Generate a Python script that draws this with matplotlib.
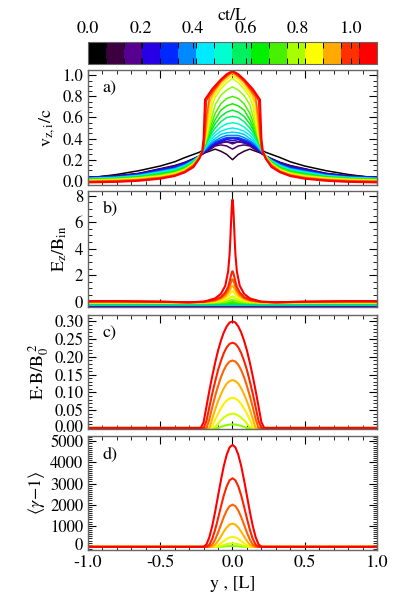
import numpy as np
import matplotlib
matplotlib.use('Agg')
import matplotlib.pyplot as plt
from matplotlib.colors import ListedColormap, LinearSegmentedColormap, BoundaryNorm
from matplotlib.cm import ScalarMappable
from matplotlib.ticker import MultipleLocator, FormatStrFormatter
import matplotlib.transforms as mtransforms

plt.rcParams['font.family'] = ['STIXGeneral', 'DejaVu Serif']
plt.rcParams['mathtext.fontset'] = 'stix'
plt.rcParams['font.size'] = 13
plt.rcParams['ytick.labelsize'] = 12

# colour table shown in the bar (16 steps of ct/L, 0 .. 1.1)
cb_colors = ['#000000', '#3c0040', '#580090', '#2800e6', '#0028ff', '#0088ff',
             '#00eaff', '#00ffd0', '#00f060', '#00f000', '#48f000', '#a8ff00',
             '#ffff00', '#ffaa00', '#ff3000', '#ff0000']
cb_bounds = [0.0, 0.06875, 0.1375, 0.20625, 0.275, 0.34375, 0.4125, 0.48125, 0.55,
             0.61875, 0.6875, 0.75625, 0.825, 0.89375, 0.9625, 1.03125, 1.1]

# snapshot times (ct/L) of the profiles
t_vals = [0.0, 0.05, 0.1, 0.15, 0.2, 0.25, 0.3, 0.35, 0.4, 0.45, 0.5,
          0.55, 0.6, 0.65, 0.7, 0.75, 0.8, 0.85, 0.9, 0.95, 1.0, 1.05]

# a) v_z,i / c  -- half profiles (y >= 0), mirrored to y < 0
ya = [0.0, 0.04, 0.08, 0.12, 0.14, 0.16, 0.18, 0.19, 0.20, 0.21, 0.23, 0.27, 0.33, 0.40, 0.50, 0.65, 0.80, 1.0]
vz = [
    [0.36, 0.37, 0.36, 0.34, 0.33, 0.32, 0.31, 0.30, 0.29, 0.285, 0.27, 0.25, 0.22, 0.18, 0.14, 0.095, 0.06, 0.025],
    [0.20, 0.25, 0.28, 0.30, 0.29, 0.28, 0.27, 0.265, 0.26, 0.25, 0.235, 0.21, 0.175, 0.145, 0.115, 0.07, 0.048, 0.033],
    [0.30, 0.33, 0.34, 0.33, 0.31, 0.295, 0.28, 0.27, 0.26, 0.25, 0.235, 0.205, 0.17, 0.14, 0.11, 0.068, 0.046, 0.033],
    [0.35, 0.37, 0.36, 0.34, 0.32, 0.30, 0.285, 0.275, 0.26, 0.25, 0.235, 0.205, 0.17, 0.135, 0.11, 0.066, 0.044, 0.032],
    [0.38, 0.39, 0.37, 0.35, 0.33, 0.31, 0.29, 0.28, 0.265, 0.255, 0.235, 0.20, 0.165, 0.13, 0.105, 0.063, 0.042, 0.030],
    [0.40, 0.40, 0.38, 0.36, 0.34, 0.32, 0.295, 0.285, 0.27, 0.26, 0.235, 0.20, 0.16, 0.125, 0.10, 0.06, 0.04, 0.028],
    [0.41, 0.41, 0.39, 0.37, 0.35, 0.33, 0.30, 0.29, 0.275, 0.26, 0.235, 0.195, 0.155, 0.12, 0.095, 0.056, 0.037, 0.026],
    [0.43, 0.43, 0.41, 0.38, 0.36, 0.34, 0.31, 0.295, 0.28, 0.265, 0.235, 0.195, 0.15, 0.115, 0.09, 0.053, 0.035, 0.024],
    [0.46, 0.455, 0.44, 0.40, 0.38, 0.35, 0.32, 0.30, 0.285, 0.265, 0.235, 0.19, 0.145, 0.11, 0.085, 0.05, 0.032, 0.022],
    [0.50, 0.49, 0.47, 0.43, 0.40, 0.37, 0.33, 0.31, 0.29, 0.27, 0.235, 0.19, 0.14, 0.105, 0.08, 0.047, 0.03, 0.02],
    [0.55, 0.54, 0.51, 0.46, 0.43, 0.39, 0.35, 0.32, 0.30, 0.275, 0.235, 0.185, 0.135, 0.10, 0.075, 0.043, 0.027, 0.018],
    [0.61, 0.60, 0.56, 0.50, 0.46, 0.41, 0.36, 0.33, 0.30, 0.28, 0.235, 0.18, 0.13, 0.095, 0.07, 0.04, 0.025, 0.016],
    [0.67, 0.65, 0.61, 0.54, 0.49, 0.43, 0.37, 0.34, 0.31, 0.28, 0.235, 0.175, 0.125, 0.09, 0.065, 0.036, 0.022, 0.014],
    [0.73, 0.71, 0.67, 0.58, 0.52, 0.45, 0.38, 0.35, 0.31, 0.28, 0.23, 0.17, 0.12, 0.085, 0.06, 0.033, 0.02, 0.012],
    [0.80, 0.78, 0.73, 0.64, 0.56, 0.47, 0.39, 0.35, 0.32, 0.28, 0.23, 0.17, 0.115, 0.08, 0.055, 0.03, 0.018, 0.01],
    [0.89, 0.86, 0.81, 0.72, 0.62, 0.50, 0.40, 0.36, 0.32, 0.28, 0.23, 0.165, 0.11, 0.075, 0.05, 0.028, 0.015, 0.007],
    [0.97, 0.93, 0.87, 0.79, 0.72, 0.55, 0.42, 0.37, 0.32, 0.28, 0.23, 0.16, 0.105, 0.07, 0.045, 0.025, 0.012, 0.005],
    [1.00, 0.96, 0.90, 0.82, 0.78, 0.62, 0.45, 0.38, 0.33, 0.28, 0.22, 0.16, 0.10, 0.065, 0.04, 0.02, 0.01, 0.0],
    [1.02, 0.98, 0.93, 0.85, 0.81, 0.74, 0.50, 0.40, 0.33, 0.28, 0.22, 0.15, 0.095, 0.06, 0.035, 0.015, 0.005, 0.0],
    [1.03, 0.99, 0.94, 0.87, 0.83, 0.79, 0.60, 0.42, 0.32, 0.27, 0.22, 0.15, 0.09, 0.055, 0.03, 0.01, 0.0, -0.005],
    [1.035, 1.00, 0.95, 0.88, 0.85, 0.81, 0.76, 0.50, 0.32, 0.26, 0.21, 0.14, 0.085, 0.05, 0.025, 0.005, -0.005, -0.01],
    [1.04, 1.01, 0.96, 0.90, 0.87, 0.83, 0.79, 0.77, 0.40, 0.28, 0.21, 0.13, 0.08, 0.045, 0.02, 0.0, -0.01, -0.015],
]

# b) E_z / B_in -- early snapshots are flat, the last eight have the central spike
ez_flat = [-0.36, -0.35, -0.33, -0.32, -0.30, -0.28, -0.26, -0.24, -0.22, -0.20, -0.18, -0.16, -0.14, -0.12]
yb = [0.0, 0.005, 0.01, 0.015, 0.02, 0.03, 0.05, 0.08, 0.12, 0.2, 0.3, 0.5, 0.8, 1.0]
ez = [
    [0.0, -0.01, -0.02, -0.03, -0.04, -0.06, -0.08, -0.09, -0.10, -0.11, -0.11, -0.10, -0.10, -0.10],
    [0.15, 0.14, 0.13, 0.11, 0.09, 0.05, 0.0, -0.04, -0.07, -0.09, -0.10, -0.09, -0.08, -0.08],
    [0.40, 0.39, 0.36, 0.32, 0.28, 0.21, 0.12, 0.04, -0.02, -0.07, -0.08, -0.07, -0.06, -0.06],
    [0.80, 0.77, 0.70, 0.63, 0.56, 0.43, 0.26, 0.12, 0.02, -0.05, -0.06, -0.05, -0.04, -0.04],
    [1.20, 1.16, 1.06, 0.95, 0.85, 0.66, 0.40, 0.20, 0.06, -0.04, -0.05, -0.03, -0.02, -0.02],
    [1.70, 1.62, 1.48, 1.32, 1.16, 0.88, 0.55, 0.28, 0.10, -0.02, -0.04, -0.01, 0.0, 0.0],
    [2.30, 2.20, 2.00, 1.75, 1.52, 1.12, 0.70, 0.35, 0.15, 0.0, -0.04, 0.0, 0.03, 0.02],
    [7.70, 7.20, 6.00, 4.70, 3.60, 2.30, 1.20, 0.60, 0.25, 0.0, -0.05, 0.0, 0.05, 0.05],
]

# c) E.B / B0^2 and d) <gamma-1>, last seven snapshots (earlier ones are ~0)
yc = [0.0, 0.02, 0.04, 0.06, 0.08, 0.10, 0.12, 0.14, 0.16, 0.18, 0.20, 0.22, 0.30, 1.0]
eb = [
    [0.010, 0.0095, 0.008, 0.006, 0.003, 0.0, 0.0, 0.0, 0.0, 0.0, 0.0, 0.0, 0.0, 0.0],
    [0.040, 0.039, 0.035, 0.029, 0.022, 0.012, 0.003, 0.0, 0.0, 0.0, 0.0, 0.0, 0.0, 0.0],
    [0.085, 0.083, 0.077, 0.068, 0.055, 0.040, 0.023, 0.005, 0.0, 0.0, 0.0, 0.0, 0.0, 0.0],
    [0.135, 0.132, 0.125, 0.112, 0.095, 0.075, 0.052, 0.026, 0.0, 0.0, 0.0, 0.0, 0.0, 0.0],
    [0.190, 0.187, 0.178, 0.163, 0.143, 0.118, 0.090, 0.059, 0.025, 0.0, 0.0, 0.0, 0.0, 0.0],
    [0.240, 0.237, 0.227, 0.211, 0.189, 0.163, 0.131, 0.097, 0.059, 0.020, 0.0, 0.0, 0.0, 0.0],
    [0.300, 0.297, 0.286, 0.269, 0.246, 0.218, 0.184, 0.146, 0.105, 0.061, 0.016, 0.0, 0.0, 0.0],
]
gam = [
    [40, 36, 26, 14, 4, 0, 0, 0, 0, 0, 0, 0, 0, 0],
    [165, 154, 124, 83, 42, 11, 0, 0, 0, 0, 0, 0, 0, 0],
    [470, 445, 376, 276, 168, 74, 15, 0, 0, 0, 0, 0, 0, 0],
    [1100, 1052, 918, 720, 492, 275, 105, 12, 0, 0, 0, 0, 0, 0],
    [2000, 1928, 1722, 1414, 1048, 673, 344, 110, 4, 0, 0, 0, 0, 0],
    [3250, 3152, 2870, 2438, 1907, 1343, 812, 380, 98, 0, 0, 0, 0, 0],
    [4830, 4712, 4369, 3835, 3161, 2415, 1669, 995, 461, 118, 0, 0, 0, 0],
]

line_cmap = LinearSegmentedColormap.from_list('ct', cb_colors)
t_max = t_vals[-1]
frame_col = '#666666'


def mirror(y, v):
    y = np.asarray(y, float)
    v = np.asarray(v, float)
    return np.concatenate([-y[:0:-1], y]), np.concatenate([v[:0:-1], v])


def style(ax):
    for s in ax.spines.values():
        s.set_color(frame_col)
        s.set_linewidth(1.0)
    ax.tick_params(which='both', direction='in', top=True, right=True, color='black')
    ax.tick_params(which='major', length=6, width=0.8)
    ax.tick_params(which='minor', length=3, width=0.6)
    ax.set_xlim(-1.0, 1.0)
    ax.xaxis.set_major_locator(MultipleLocator(0.5))
    ax.xaxis.set_minor_locator(MultipleLocator(0.1))


def nudge(ax, value, dy_pt):
    # shift one y tick label up/down by dy_pt points
    for tk in ax.get_yticklabels():
        if abs(tk.get_position()[1] - value) < 1e-9:
            tk.set_transform(tk.get_transform() + mtransforms.ScaledTranslation(0, dy_pt / 72, fig.dpi_scale_trans))


fig = plt.figure(figsize=(4.07, 6.07), dpi=100)
L, W = 0.2162, 0.7101
cax = fig.add_axes([L, 0.8946, W, 0.0362])
ax_a = fig.add_axes([L, 0.6952, W, 0.1895])
ax_b = fig.add_axes([L, 0.4942, W, 0.1911])
ax_c = fig.add_axes([L, 0.2932, W, 0.1878])
ax_d = fig.add_axes([L, 0.0939, W, 0.1878])

# colour bar
sm = ScalarMappable(norm=BoundaryNorm(cb_bounds, len(cb_colors)), cmap=ListedColormap(cb_colors))
cb = fig.colorbar(sm, cax=cax, orientation='horizontal', ticks=[0.0, 0.2, 0.4, 0.6, 0.8, 1.0])
cb.outline.set_edgecolor(frame_col)
cax.xaxis.set_ticks_position('both')
cax.xaxis.set_label_position('top')
cax.tick_params(which='both', direction='in', labeltop=True, labelbottom=False, length=4, width=0.7)
cax.xaxis.set_major_formatter(FormatStrFormatter('%.1f'))
cax.set_xlabel('ct/L', labelpad=1)

# a)
for t, v in zip(t_vals, vz):
    yy, vv = mirror(ya, v)
    ax_a.plot(yy, vv, color=line_cmap(t / t_max), lw=1.5 if t == t_max else 1.1)
ax_a.set_ylim(-0.04, 1.05)
ax_a.yaxis.set_major_locator(MultipleLocator(0.2))
ax_a.yaxis.set_minor_locator(MultipleLocator(0.05))
ax_a.yaxis.set_major_formatter(FormatStrFormatter('%.1f'))
ax_a.set_ylabel(r'$\mathrm{v_{z,i}/c}$')
ax_a.text(0.05, 0.84, 'a)', transform=ax_a.transAxes, va='center')

# b)
for t, lev in zip(t_vals, ez_flat):
    ax_b.axhline(lev, color=line_cmap(t / t_max), lw=1.3)
for t, v in zip(t_vals[len(ez_flat):], ez):
    yy, vv = mirror(yb, v)
    ax_b.plot(yy, vv, color=line_cmap(t / t_max), lw=1.5)
ax_b.set_ylim(-0.4, 8.35)
ax_b.yaxis.set_major_locator(MultipleLocator(2))
ax_b.yaxis.set_minor_locator(MultipleLocator(0.5))
ax_b.set_ylabel(r'$\mathrm{E_z/B_{in}}$')
ax_b.text(0.05, 0.845, 'b)', transform=ax_b.transAxes, va='center')

# c)
for t, v in zip(t_vals[-len(eb):], eb):
    yy, vv = mirror(yc, v)
    ax_c.plot(yy, vv, color=line_cmap(t / t_max), lw=1.5)
ax_c.set_ylim(-0.003, 0.318)
ax_c.yaxis.set_major_locator(MultipleLocator(0.05))
ax_c.yaxis.set_minor_locator(MultipleLocator(0.01))
ax_c.yaxis.set_major_formatter(FormatStrFormatter('%.2f'))
ax_c.set_ylabel(r'$\mathrm{E{\cdot}B/B_0^{\ 2}}$', labelpad=2)
ax_c.text(0.05, 0.84, 'c)', transform=ax_c.transAxes, va='center')

# d)
for t, v in zip(t_vals[-len(gam):], gam):
    yy, vv = mirror(yc, v)
    ax_d.plot(yy, vv, color=line_cmap(t / t_max), lw=1.5)
ax_d.set_ylim(-150, 5250)
ax_d.yaxis.set_major_locator(MultipleLocator(1000))
ax_d.yaxis.set_minor_locator(MultipleLocator(100))
ax_d.set_ylabel(r'$\langle\gamma\!-\!1\rangle$', labelpad=2)
ax_d.text(0.05, 0.83, 'd)', transform=ax_d.transAxes, va='center')
ax_d.set_xlabel('y , [L]')
ax_d.xaxis.set_major_formatter(FormatStrFormatter('%.1f'))

for ax in (ax_a, ax_b, ax_c, ax_d):
    style(ax)
for ax in (ax_a, ax_b, ax_c):
    ax.tick_params(labelbottom=False)

# bottom labels of c) and d) sit a little higher, as in the original
fig.canvas.draw()
nudge(ax_c, 0.0, 1.5)
nudge(ax_d, 0.0, 2.0)

fig.savefig('out.png', dpi=100)
